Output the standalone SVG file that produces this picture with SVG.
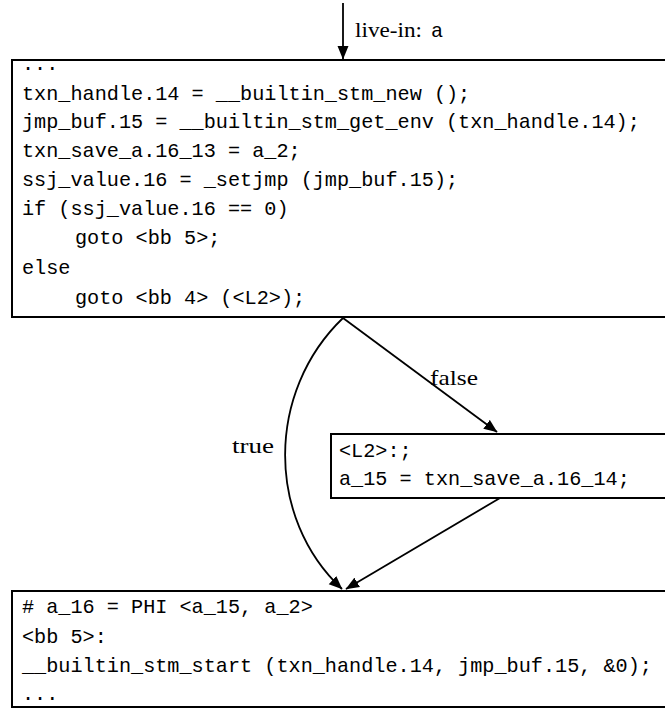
<svg xmlns="http://www.w3.org/2000/svg" width="665" height="709" viewBox="0 0 665 709">
<defs>
<marker id="ah" markerUnits="userSpaceOnUse" markerWidth="14" markerHeight="12" viewBox="0 0 14 12" refX="13" refY="6" orient="auto">
<path d="M0,0.5 L13.5,6 L0,11.5 Z" fill="#000"/>
</marker>
<style>
.box{fill:#fff;stroke:#000;stroke-width:2}
.code{font-family:"Liberation Mono","DejaVu Sans Mono",monospace;font-size:20.2px;fill:#000}
.lbl{font-family:"Liberation Serif","DejaVu Serif",serif;font-size:21px;fill:#000}
.edge{fill:none;stroke:#000;stroke-width:1.8}
</style>
</defs>
<rect width="665" height="709" fill="#fff"/>
<g id="bb3">
<rect class="box" x="12" y="60" width="700" height="257"/>
<text class="code" x="22" y="70">...</text>
<text class="code" x="22" y="100">txn_handle.14 = __builtin_stm_new ();</text>
<text class="code" x="22" y="128">jmp_buf.15 = __builtin_stm_get_env (txn_handle.14);</text>
<text class="code" x="22" y="157">txn_save_a.16_13 = a_2;</text>
<text class="code" x="22" y="186">ssj_value.16 = _setjmp (jmp_buf.15);</text>
<text class="code" x="22" y="215">if (ssj_value.16 == 0)</text>
<text class="code" x="75" y="244">goto &lt;bb 5&gt;;</text>
<text class="code" x="22" y="274">else</text>
<text class="code" x="75" y="304">goto &lt;bb 4&gt; (&lt;L2&gt;);</text>
</g>
<g id="bb4">
<rect class="box" x="331" y="434" width="400" height="64"/>
<text class="code" x="339" y="457">&lt;L2&gt;:;</text>
<text class="code" x="339" y="485">a_15 = txn_save_a.16_14;</text>
</g>
<g id="bb5">
<rect class="box" x="12" y="591" width="700" height="116"/>
<text class="code" x="22" y="613"># a_16 = PHI &lt;a_15, a_2&gt;</text>
<text class="code" x="22" y="643">&lt;bb 5&gt;:</text>
<text class="code" x="22" y="672">__builtin_stm_start (txn_handle.14, jmp_buf.15, &amp;0);</text>
<text class="code" x="22" y="700">...</text>
</g>
<g id="connectors">
<path class="edge" d="M343,3 L343,59" marker-end="url(#ah)"/>
<text class="lbl" x="355" y="37"><tspan textLength="67" lengthAdjust="spacingAndGlyphs">live-in:</tspan><tspan x="431" style="font-family:'Liberation Mono',monospace;font-size:20.2px">a</tspan></text>
<path class="edge" d="M343,318 L497,432" marker-end="url(#ah)"/>
<text class="lbl" x="430" y="385" textLength="48" lengthAdjust="spacingAndGlyphs">false</text>
<path class="edge" d="M343,318 C266,392 266,518 342,589" marker-end="url(#ah)"/>
<text class="lbl" x="232" y="453" textLength="42" lengthAdjust="spacingAndGlyphs">true</text>
<path class="edge" d="M500,498 L346,589" marker-end="url(#ah)"/>
</g>
</svg>
